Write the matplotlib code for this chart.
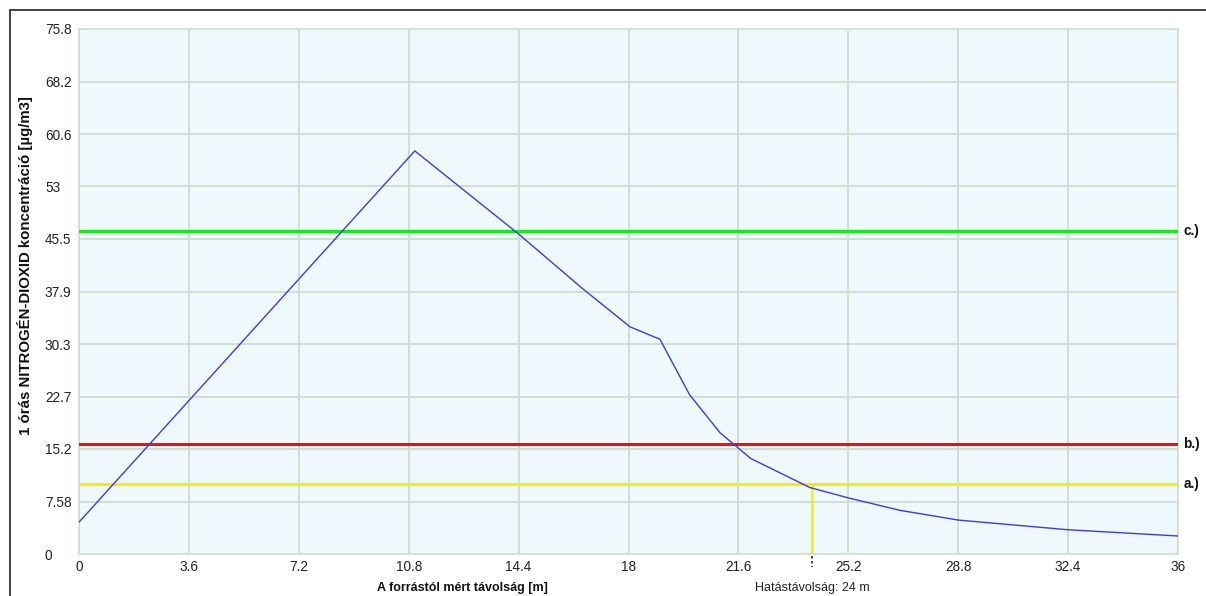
import matplotlib
matplotlib.use("Agg")
import matplotlib.pyplot as plt
from matplotlib.patches import Rectangle
from matplotlib.transforms import blended_transform_factory

plt.rcParams['font.family'] = ['Liberation Sans', 'DejaVu Sans']

# ---- data ----
dist = [0, 11.0, 14.4, 16.5, 18.05, 19.03, 20.0, 21.0, 22.0, 23.94, 25.2, 26.9, 28.8, 32.4, 36]
conc = [4.6, 58.2, 46.2, 38.3, 32.8, 31.0, 23.0, 17.5, 13.8, 9.6, 8.1, 6.3, 4.9, 3.5, 2.6]
limit_names = ['a.)', 'b.)', 'c.)']
limit_values = [10.1, 15.9, 46.7]
limit_colors = ['#f2f200', '#ee1111', '#11ee11']
impact_distance = 24
x_ticks = [0, 3.6, 7.2, 10.8, 14.4, 18, 21.6, 25.2, 28.8, 32.4, 36]
x_tick_labels = ['0', '3.6', '7.2', '10.8', '14.4', '18', '21.6', '25.2', '28.8', '32.4', '36']
y_ticks = [0, 7.58, 15.16, 22.74, 30.32, 37.9, 45.48, 53.06, 60.64, 68.22, 75.8]
y_tick_labels = ['0', '7.58', '15.2', '22.7', '30.3', '37.9', '45.5', '53', '60.6', '68.2', '75.8']
x_label = 'A forrástól mért távolság [m]'
y_label = '1 órás NITROGÉN-DIOXID koncentráció [µg/m3]'
impact_label = 'Hatástávolság: 24 m'

W, H = 1206, 596
fig = plt.figure(figsize=(W / 100, H / 100), dpi=100)
fig.patch.set_facecolor('white')

L, R, T, B = 79, 1178, 29, 554
ax = fig.add_axes([L / W, (H - B) / H, (R - L) / W, (B - T) / H])
ax.set_facecolor('#eff8fd')
grid_c = '#cfe0cf'
for s in ax.spines.values():
    s.set_color(grid_c)
    s.set_linewidth(1.2)

ax.set_xlim(0, 36)
ax.set_ylim(0, 75.8)
ax.set_xticks(x_ticks)
ax.set_xticklabels(x_tick_labels)
ax.set_yticks(y_ticks)
ax.set_yticklabels(y_tick_labels)
ax.grid(True, color=grid_c, linewidth=1.4)
ax.set_axisbelow(True)
ax.tick_params(axis='both', length=0, labelsize=9.8, colors='#222222')
ax.tick_params(axis='y', pad=24.5)
ax.tick_params(axis='x', pad=4.5)
for lab in ax.get_yticklabels():
    lab.set_horizontalalignment('left')

# limit lines
trans = blended_transform_factory(ax.transAxes, ax.transData)
for name, val, col in zip(limit_names, limit_values, limit_colors):
    ax.axhline(val, color=col, linewidth=2.2, zorder=3)
    ax.text(1.005, val, name, transform=trans, ha='left', va='center',
            fontsize=9.8, fontweight='bold', color='#111111')

# impact distance vertical
ax.plot([impact_distance, impact_distance], [0, limit_values[0]], color='#f2f200',
        linewidth=1.8, zorder=3)
ax.plot([impact_distance, impact_distance], [-0.3, -1.9], color='#222222',
        linewidth=1.2, linestyle=(0, (1.5, 1.5)), clip_on=False, zorder=4)

# concentration curve
ax.plot(dist, conc, color='#3c3cdd', linewidth=1.0, zorder=4)

# labels
fig.text(462 / W, 1 - 588 / H, x_label, ha='center', va='center',
         fontsize=9, fontweight='bold', color='#111111')
fig.text(812 / W, 1 - 588 / H, impact_label, ha='center', va='center',
         fontsize=9, color='#222222')
fig.text(25 / W, 1 - 266 / H, y_label, ha='center', va='center', rotation=90,
         fontsize=10.8, fontweight='bold', color='#111111')

# outer frame
fig.add_artist(Rectangle((9.5 / W, -0.1), 1.2, 1.1 - 10.5 / H, transform=fig.transFigure,
                         fill=False, edgecolor='#333333', linewidth=1.3))

fig.savefig('out.png', dpi=100)
